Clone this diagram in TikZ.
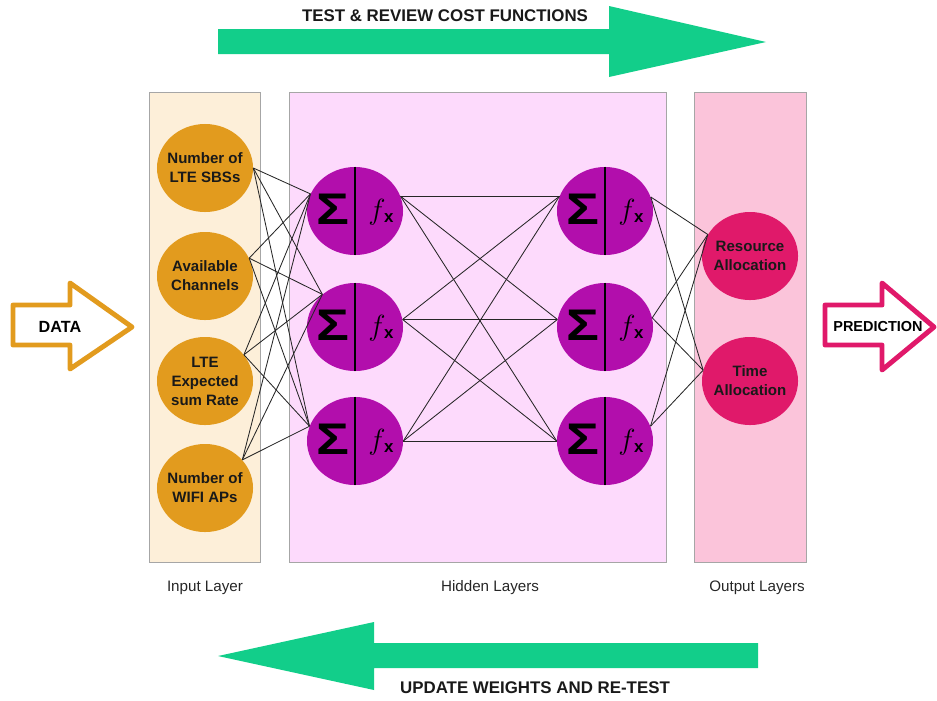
\documentclass[tikz,border=0pt]{standalone}
\usepackage{fontspec}
\setmainfont{Liberation Sans}
\usetikzlibrary{shapes.geometric}
\definecolor{dataorange}{RGB}{226,155,30}
\definecolor{inputbg}{RGB}{253,239,217}
\definecolor{hiddenbg}{RGB}{253,218,252}
\definecolor{outputbg}{RGB}{251,196,218}
\definecolor{neuronpurple}{RGB}{178,14,172}
\definecolor{outmagenta}{RGB}{224,25,106}
\definecolor{loopgreen}{RGB}{18,206,138}
\begin{document}
\begin{tikzpicture}
    [
    x=0.025cm, y=-0.025cm,
    layerbox/.style={draw=black!35,line width=0.6pt},
    unit/.style={ellipse,inner sep=0pt,minimum width=2.4cm,minimum height=2.2cm},
    unittext/.style={align=center,font=\fontsize{10.7}{13.5}\selectfont\bfseries,text=black!90},
    inputunit/.style={unit,fill=dataorange},
    neuron/.style={unit,fill=neuronpurple},
    outputunit/.style={unit,fill=outmagenta},
    link/.style={line width=0.6pt,black!85},
    bigarrow/.style={fill=loopgreen},
    flowarrow/.style={line width=3.5pt,line join=round,fill=white},
    caption/.style={font=\fontsize{10.8}{12}\selectfont,text=black!85},
    banner/.style={font=\fontsize{12}{14}\selectfont\bfseries,text=black!90}
    ]
    \useasboundingbox (0,0) rectangle (937,700);
    % layer backgrounds
    \draw [layerbox,fill=inputbg] (149,92) rectangle (260,562);
    \draw [layerbox,fill=hiddenbg] (289,92) rectangle (666,562);
    \draw [layerbox,fill=outputbg] (694,92) rectangle (806,562);
    \node (cin) at (205,588) [caption] {Input Layer};
    \node (chid) at (490,588) [caption] {Hidden Layers};
    \node (cout) at (757,588) [caption] {Output Layers};
    % input units
    \node (in1) at (205,168) [inputunit] {};
    \node (in2) at (205,276) [inputunit] {};
    \node (in3) at (205,381) [inputunit] {};
    \node (in4) at (205,488) [inputunit] {};
    \node (in1t) at (in1) [unittext] {Number of\\LTE SBSs};
    \node (in2t) at (in2) [unittext] {Available\\Channels};
    \node (in3t) at (in3) [unittext] {LTE\\Expected\\sum Rate};
    \node (in4t) at (in4) [unittext] {Number of\\WIFI APs};
    % hidden units
    \foreach \n/\x/\y in {h1/355/211, h2/355/327, h3/355/441, g1/605/211, g2/605/327, g3/605/441} {
      \node (\n) at (\x,\y) [neuron] {};
      \draw [line width=2pt] (\n.north) -- (\n.south);
      \node (\n s) at (\x-22,\y-2) [inner sep=0pt,font=\fontsize{30}{30}\selectfont\bfseries] {\scalebox{1.3}[1.05]{Σ}};
      \node (\n f) at (\x+26,\y+1) [inner sep=0pt,font=\fontsize{21}{21}\selectfont] {$f$\kern-1pt\raisebox{-2pt}{\fontsize{12}{12}\selectfont\bfseries x}};
    }
    % output units
    \node (o1) at (750,256) [outputunit] {};
    \node (o2) at (750,381) [outputunit] {};
    \node (o1t) at (o1) [unittext] {Resource\\Allocation};
    \node (o2t) at (o2) [unittext] {Time\\Allocation};
    % connections
    \foreach \a in {in1.east, in2.22, in3.34, in4.37}
      \foreach \b in {h1.159, h2.135, h3.162}
        \draw [link] (\a) to (\b);
    \foreach \a in {h1.18, h2.9, h3.east}
      \foreach \b in {g1.162, g2.171, g3.west}
        \draw [link] (\a) to (\b);
    \foreach \a in {g1.17, g2.11, g3.18}
      \foreach \b in {o1.153, o2.167}
        \draw [link] (\a) to (\b);
    % data in, prediction out
    \draw [flowarrow,draw=dataorange] (13,305) -- (70,305) -- (70,283) -- (132,327)
      -- (70,369) -- (70,345) -- (13,345) -- cycle;
    \node (data) at (60,327) [font=\fontsize{11.5}{13}\selectfont\bfseries] {DATA};
    \draw [flowarrow,draw=outmagenta] (825,305) -- (882,305) -- (882,283) -- (934,327)
      -- (882,370) -- (882,345) -- (825,345) -- cycle;
    \node (pred) at (878,327) [font=\fontsize{10.3}{12}\selectfont\bfseries] {PREDICTION};
    % feedback loop
    \fill [bigarrow] (218,29) -- (609,29) -- (609,6) -- (766,42) -- (609,77) -- (609,54)
      -- (218,54) -- cycle;
    \node (test) at (445,16) [banner] {TEST \& REVIEW COST FUNCTIONS};
    \fill [bigarrow] (758,643) -- (374,643) -- (374,622) -- (218,656) -- (374,690) -- (374,668)
      -- (758,668) -- cycle;
    \node (update) at (535,688) [banner] {UPDATE WEIGHTS AND RE-TEST};
  \end{tikzpicture}
\end{document}
